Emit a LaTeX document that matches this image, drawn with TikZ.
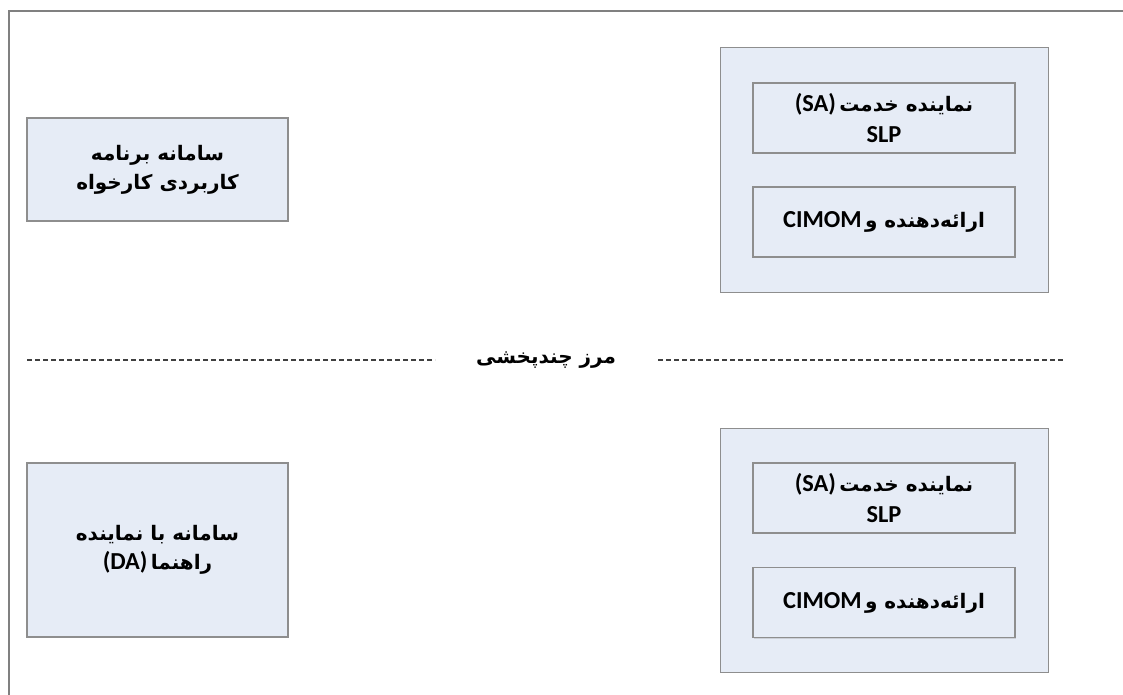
\documentclass[tikz,border=0pt]{standalone}
\usepackage{fontspec}
\TeXXeTstate=1
\newfontfamily\arabicfont[Script=Arabic]{DejaVu Sans}
\newfontfamily\latinfont[Scale=1.22]{Carlito}
\usetikzlibrary{shadows}
\newcommand\fa[1]{{\arabicfont\bfseries\beginR #1\endR}}
\newcommand\la[1]{{\latinfont\bfseries #1}}
\definecolor{boxfill}{HTML}{E6ECF6}
\definecolor{boxline}{HTML}{8E8E8E}
\definecolor{frameline}{HTML}{808080}
\begin{document}
\begin{tikzpicture}[x=1pt,y=-1pt,
  outerbox/.style={draw=boxline, line width=1pt, fill=boxfill, rectangle,
    minimum width=328pt, minimum height=244pt, inner sep=0pt,
    drop shadow={opacity=0.25, shadow xshift=0.6pt, shadow yshift=-1.2pt}},
  innerbox/.style={draw=boxline, line width=1.5pt, fill=boxfill, rectangle,
    minimum width=262pt, minimum height=70pt, inner sep=0pt, align=center,
    font=\fontsize{20}{31}\selectfont,
    drop shadow={opacity=0.25, shadow xshift=0.6pt, shadow yshift=-1.2pt}},
  sidebox/.style={draw=boxline, line width=1.5pt, fill=boxfill, rectangle,
    minimum width=261pt, inner sep=0pt, align=center,
    font=\fontsize{20}{29}\selectfont,
    drop shadow={opacity=0.25, shadow xshift=0.6pt, shadow yshift=-1.2pt}},
  boundary/.style={line width=1.2pt, draw=black!75, dash pattern=on 5pt off 3pt},
  framestroke/.style={draw=frameline, line width=2.5pt}]
\useasboundingbox (0,0) rectangle (1123,695);
\fill[white] (0,0) rectangle (1123,695);

% page frame: top and left edges only
\coordinate (fbl) at (9,695);
\coordinate (ftl) at (9,11);
\coordinate (ftr) at (1123,11);
\draw[framestroke] (fbl) -- (ftl) -- (ftr);

% client application system
\node[sidebox, minimum height=103pt] (client) at (157.5,169.5)
  {\fa{سامانه برنامه}\\ \fa{کاربردی کارخواه}};

% system with directory agent
\node[sidebox, minimum height=174pt] (da) at (157.5,550)
  {\fa{سامانه با نماینده}\\ \la{(DA)}\,\fa{راهنما}};

% upper service host
\node[outerbox] (hostA) at (884,170) {};
\node[innerbox] (saA) at (884,118) {\la{(SA)}\,\fa{نماینده خدمت}\\ \la{SLP}};
\node[innerbox] (cimA) at (884,222) {\la{CIMOM}\,\fa{ارائه‌دهنده و}};

% lower service host
\node[outerbox] (hostB) at (884,550) {};
\node[innerbox] (saB) at (884,498) {\la{(SA)}\,\fa{نماینده خدمت}\\ \la{SLP}};
\node[innerbox] (cimB) at (884,602.5) {\la{CIMOM}\,\fa{ارائه‌دهنده و}};

% multicast boundary
\node[font=\fontsize{20}{24}\selectfont] (mcast) at (546,360) {\fa{مرز چندپخشی}};
\coordinate (bl) at (27,360);
\coordinate (bll) at (435,360);
\coordinate (brr) at (658,360);
\coordinate (br) at (1065,360);
\draw[boundary] (bl) -- (bll);
\draw[boundary] (brr) -- (br);
\end{tikzpicture}
\end{document}
